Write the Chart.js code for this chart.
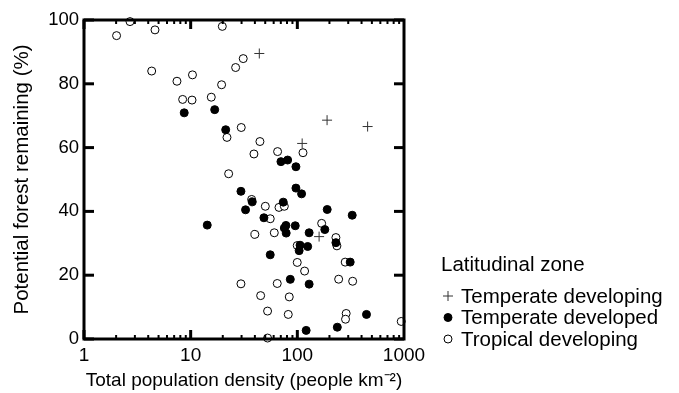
<!DOCTYPE html>
<html>
<head>
<meta charset="utf-8">
<script src="https://cdn.jsdelivr.net/npm/chart.js@4.4.1/dist/chart.umd.min.js"></script>
<style>
  html, body { margin: 0; padding: 0; background: #fff; }
  #wrap { width: 679px; height: 393px; }
</style>
</head>
<body>
<div id="wrap"><canvas id="chart"></canvas></div>
<script>
// tick values
const xMajorTicks = [1, 10, 100, 1000];
const yTicks = [0, 20, 40, 60, 80, 100];

// Temperate developing (+)
const tempDevelopingX = [44, 190, 456, 111, 160];
const tempDevelopingY = [89.5, 68.6, 66.6, 61.3, 32.1];

// Temperate developed (filled circles)
const tempDevelopedX = [8.7, 16.8, 21.3, 29.6, 32.7, 14.3, 70.2, 81.1, 97, 97, 109.6, 37.8, 73.8, 190.6, 327, 48.6,
  75.5, 78.2, 95.6, 78.6, 129, 181, 230, 106, 104, 125, 55.7, 313, 85.9, 129, 445, 121, 237];
const tempDevelopedY = [70.9, 71.9, 65.6, 46.3, 40.5, 35.7, 55.6, 56.1, 54, 47.3, 45.5, 43, 42.9, 40.6, 38.8, 38,
  34.8, 35.6, 35.5, 33.2, 33.3, 34.3, 30.2, 29.4, 27.7, 29, 26.4, 24.1, 18.7, 17.2, 7.7, 2.7, 3.7];

// Tropical developing (open circles)
const tropDevelopingX = [2.7, 2.02, 4.63, 19.8, 31.1, 26.4, 4.31, 7.44, 10.4, 19.5, 8.41, 10.3, 15.6, 29.8, 21.9, 22.7,
  44.6, 39.2, 65.3, 113, 37.3, 50.1, 67.3, 75.5, 55.7, 169, 40, 60.8, 230, 235, 99.8, 99.8, 281, 117, 29.6, 64.8,
  244, 330, 45.3, 84, 52.6, 82.2, 287, 283, 942, 52.6];
const tropDevelopingY = [99.5, 95.1, 96.9, 98, 87.9, 85.1, 84, 80.8, 82.8, 79.7, 75.1, 74.9, 75.8, 66.3, 63.2, 51.8,
  61.9, 58, 58.75, 58.4, 43.75, 41.6, 41.25, 41.6, 37.7, 36.25, 32.8, 33.3, 31.8, 29.2, 29.3, 24, 24.1, 21.3, 17.3, 17.4,
  18.75, 18.1, 13.6, 13.2, 8.75, 7.7, 8, 6.2, 5.5, 0.3];

const seriesLabels = ['Temperate developing', 'Temperate developed', 'Tropical developing'];
const legendTitle = 'Latitudinal zone';

const FONT = '"Liberation Sans", Arial, sans-serif';

function toPoints(xs, ys) {
  return xs.map((x, i) => ({ x: x, y: ys[i] }));
}

// box frame, inward ticks and the legend on the right
const framePlugin = {
  id: 'frame',
  afterDatasetsDraw(chart) {
    const { ctx, chartArea: a, scales: { x, y } } = chart;
    ctx.save();
    ctx.strokeStyle = '#000';
    ctx.lineWidth = 3;
    ctx.strokeRect(a.left, a.top, a.right - a.left, a.bottom - a.top);

    const line = (x1, y1, x2, y2) => {
      ctx.beginPath();
      ctx.moveTo(x1, y1);
      ctx.lineTo(x2, y2);
      ctx.stroke();
    };

    yTicks.forEach(v => {
      const py = y.getPixelForValue(v);
      line(a.left, py, a.left + 10, py);
      line(a.right, py, a.right - 10, py);
    });

    for (let d = 1; d < 1000; d *= 10) {
      for (let m = 1; m <= 9; m++) {
        const px = x.getPixelForValue(d * m);
        if (m === 1) {
          ctx.lineWidth = 3;
          line(px, a.bottom, px, a.bottom - 9);
          line(px, a.top, px, a.top + 9);
        } else {
          ctx.lineWidth = 2;
          line(px, a.bottom, px, a.bottom - 4);
          line(px, a.top, px, a.top + 4);
        }
      }
    }
    ctx.restore();
  },
  afterDraw(chart) {
    const { ctx, chartArea: a } = chart;
    ctx.save();
    ctx.fillStyle = '#000';
    ctx.font = '20.5px ' + FONT;
    ctx.textBaseline = 'middle';
    ctx.textAlign = 'left';
    const lx = a.right + 37;
    ctx.fillText(legendTitle, lx, 265);
    chart.data.datasets.forEach((ds, i) => {
      const cy = 296 + i * 21.5;
      ctx.strokeStyle = ds.borderColor;
      ctx.fillStyle = ds.backgroundColor;
      ctx.lineWidth = ds.borderWidth;
      Chart.helpers.drawPoint(ctx, {
        pointStyle: ds.pointStyle,
        radius: ds.pointRadius,
        borderWidth: ds.borderWidth
      }, lx + 7, cy);
      ctx.fillStyle = '#000';
      ctx.fillText(ds.label, lx + 20, cy + 1);
    });
    ctx.restore();
  }
};

new Chart(document.getElementById('chart'), {
  type: 'scatter',
  data: {
    datasets: [
      {
        label: seriesLabels[0],
        data: toPoints(tempDevelopingX, tempDevelopingY),
        pointStyle: 'cross',
        pointRadius: 5,
        borderWidth: 1,
        borderColor: '#333',
        backgroundColor: '#333',
        clip: false
      },
      {
        label: seriesLabels[1],
        data: toPoints(tempDevelopedX, tempDevelopedY),
        pointStyle: 'circle',
        pointRadius: 4,
        borderWidth: 1,
        borderColor: '#000',
        backgroundColor: '#000',
        clip: false
      },
      {
        label: seriesLabels[2],
        data: toPoints(tropDevelopingX, tropDevelopingY),
        pointStyle: 'circle',
        pointRadius: 4,
        borderWidth: 1,
        borderColor: '#000',
        backgroundColor: '#fff',
        clip: false
      }
    ]
  },
  options: {
    responsive: true,
    maintainAspectRatio: false,
    animation: false,
    layout: { padding: { top: 20, right: 275, left: 0, bottom: 0 } },
    plugins: {
      legend: { display: false },
      tooltip: { enabled: false }
    },
    scales: {
      x: {
        type: 'logarithmic',
        min: 1,
        max: 1000,
        grid: { display: false, drawTicks: false },
        border: { display: false },
        afterBuildTicks(scale) {
          scale.ticks = xMajorTicks.map(v => ({ value: v }));
        },
        afterFit(scale) { scale.height = 54; },
        ticks: {
          autoSkip: false,
          maxRotation: 0,
          padding: 5,
          color: '#000',
          font: { family: FONT, size: 19 },
          callback: v => String(v)
        },
        title: {
          display: true,
          text: 'Total population density (people km\u207B\u00B2)',
          color: '#000',
          font: { family: FONT, size: 19 },
          padding: { top: 1, bottom: 1 }
        }
      },
      y: {
        min: 0,
        max: 100,
        grid: { display: false, drawTicks: false },
        border: { display: false },
        afterBuildTicks(scale) {
          scale.ticks = yTicks.map(v => ({ value: v }));
        },
        afterFit(scale) { scale.width = 84; },
        ticks: {
          padding: 5,
          color: '#000',
          font: { family: FONT, size: 18.5 }
        },
        title: {
          display: true,
          text: 'Potential forest remaining (%)',
          color: '#000',
          font: { family: FONT, size: 20.5 },
          padding: { top: 10, bottom: 10 }
        }
      }
    }
  },
  plugins: [framePlugin]
});
</script>
</body>
</html>
